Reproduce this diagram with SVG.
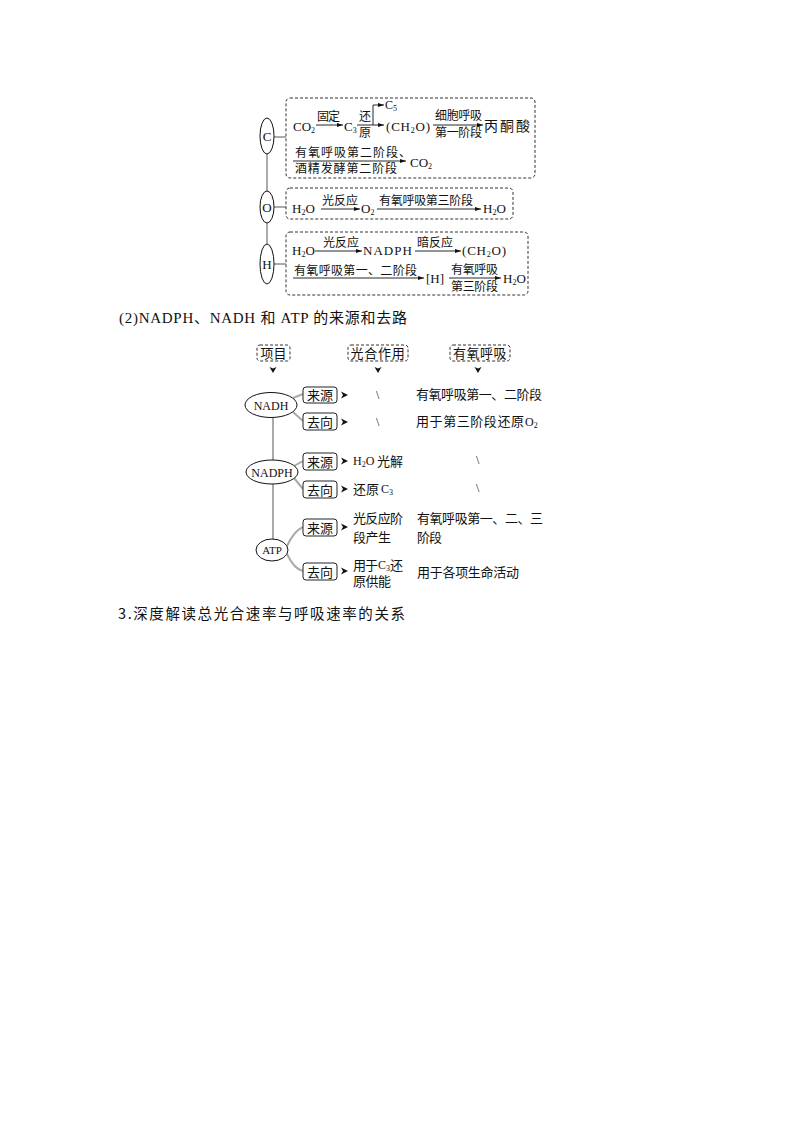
<svg xmlns="http://www.w3.org/2000/svg" width="794" height="1123" viewBox="0 0 794 1123">
<style>
.t{font-family:"Liberation Serif","Noto Sans CJK SC",serif;fill:#111}
.s{font-size:8px}
.cn{font-family:"Noto Sans CJK SC","Liberation Serif",serif;fill:#111}
.dash{fill:none;stroke:#333;stroke-width:1;stroke-dasharray:3,2}
.ln{stroke:#111;stroke-width:0.9;fill:none}
.gr{stroke:#aaa;stroke-width:2;fill:none}
.el{fill:#fff;stroke:#111;stroke-width:1}
.bx{fill:#fff;stroke:#222;stroke-width:1}
</style>
<defs>
<marker id="ah" viewBox="0 0 6 4" refX="6" refY="2" markerWidth="6" markerHeight="4" markerUnits="userSpaceOnUse" orient="auto"><path d="M0,0 L6,2 L0,4 Z" fill="#111"/></marker>
<path id="dn" d="M-3.5,0 L0,1.5 L3.5,0 L0,6 Z" fill="#111"/>
<path id="rt" d="M0,-3.5 L7,0 L0,3.5 L2,0 Z" fill="#111"/>
</defs>
<rect width="794" height="1123" fill="#fff"/>

<!-- connectors -->
<g id="connectors">
<line class="gr" x1="267" y1="154" x2="267" y2="191"/>
<line class="gr" x1="267" y1="223" x2="267" y2="244"/>
<line class="gr" x1="274" y1="137" x2="286" y2="137" stroke-width="1.5"/>
<line class="gr" x1="274" y1="207" x2="286" y2="207" stroke-width="1.5"/>
<line class="gr" x1="274" y1="264" x2="286" y2="264" stroke-width="1.5"/>
<line class="gr" x1="273" y1="418" x2="273" y2="460"/>
<line class="gr" x1="273" y1="484" x2="273" y2="539"/>
<path class="gr" stroke-width="1.2" d="M293,398 L303,394"/>
<path class="gr" stroke-width="1.2" d="M293,412 L303,421"/>
<path class="gr" stroke-width="1.2" d="M294,466 L303,461"/>
<path class="gr" stroke-width="1.2" d="M294,478 L303,489"/>
<path class="gr" d="M287,546 Q294,531 303,527"/>
<path class="gr" d="M287,554 Q294,569 303,571"/>
<use href="#dn" x="273" y="367"/>
<use href="#dn" x="378" y="367"/>
<use href="#dn" x="478" y="367"/>
<use href="#rt" x="341" y="395"/>
<use href="#rt" x="341" y="422"/>
<use href="#rt" x="341" y="461"/>
<use href="#rt" x="341" y="489"/>
<use href="#rt" x="341" y="527"/>
<use href="#rt" x="341" y="571"/>
</g>

<!-- C element -->
<g id="nodeC">
<ellipse class="el" cx="267" cy="136" rx="7" ry="18"/>
<text class="t" x="267" y="141" font-size="13" text-anchor="middle">C</text>
</g>
<g id="boxC">
<rect class="dash" x="286" y="98" width="249" height="80" rx="4"/>
<text class="t" x="293" y="131" font-size="13">CO<tspan class="s" dy="2">2</tspan></text>
<text class="t" x="317" y="121" font-size="12" textLength="23">固定</text>
<line class="ln" x1="316" y1="125" x2="343" y2="125" marker-end="url(#ah)"/>
<text class="t" x="344" y="131" font-size="13">C<tspan class="s" dy="2">3</tspan></text>
<text class="t" x="359" y="121" font-size="12">还</text>
<text class="t" x="359" y="137" font-size="12">原</text>
<line class="ln" x1="357" y1="125" x2="384" y2="125" marker-end="url(#ah)"/>
<path class="ln" d="M373,125 V105 H384" marker-end="url(#ah)"/>
<text class="t" x="385" y="109" font-size="12">C<tspan class="s" dy="2">5</tspan></text>
<text class="t" x="386" y="131" font-size="13" letter-spacing="0.8">(CH<tspan class="s" dy="2">2</tspan><tspan dy="-2">O)</tspan></text>
<text class="t" x="435" y="120" font-size="12" textLength="47">细胞呼吸</text>
<line class="ln" x1="433" y1="125" x2="483" y2="125" marker-end="url(#ah)"/>
<text class="t" x="435" y="137" font-size="12" textLength="47">第一阶段</text>
<text class="t" x="484" y="131" font-size="14" textLength="46">丙酮酸</text>
<text class="t" x="295" y="157" font-size="12" textLength="116">有氧呼吸第二阶段、</text>
<line class="ln" x1="293" y1="161" x2="406" y2="161" marker-end="url(#ah)"/>
<text class="t" x="295" y="173" font-size="12" textLength="102">酒精发酵第二阶段</text>
<text class="t" x="410" y="167" font-size="13">CO<tspan class="s" dy="2">2</tspan></text>
</g>

<!-- O element -->
<g id="nodeO">
<ellipse class="el" cx="267" cy="207" rx="7" ry="16"/>
<text class="t" x="267" y="212" font-size="13" text-anchor="middle">O</text>
</g>
<g id="boxO">
<rect class="dash" x="286" y="188" width="227" height="31" rx="4"/>
<text class="t" x="292" y="213" font-size="13">H<tspan class="s" dy="2">2</tspan><tspan dy="-2">O</tspan></text>
<text class="t" x="322" y="205" font-size="12" textLength="36">光反应</text>
<line class="ln" x1="321" y1="209" x2="360" y2="209" marker-end="url(#ah)"/>
<text class="t" x="361" y="213" font-size="13">O<tspan class="s" dy="2">2</tspan></text>
<text class="t" x="379" y="205" font-size="12" textLength="94">有氧呼吸第三阶段</text>
<line class="ln" x1="377" y1="209" x2="481" y2="209" marker-end="url(#ah)"/>
<text class="t" x="483" y="213" font-size="13">H<tspan class="s" dy="2">2</tspan><tspan dy="-2">O</tspan></text>
</g>

<!-- H element -->
<g id="nodeH">
<ellipse class="el" cx="267" cy="264" rx="7" ry="20"/>
<text class="t" x="267" y="269" font-size="13" text-anchor="middle">H</text>
</g>
<g id="boxH">
<rect class="dash" x="286" y="232" width="242" height="63" rx="4"/>
<text class="t" x="292" y="255" font-size="13">H<tspan class="s" dy="2">2</tspan><tspan dy="-2">O</tspan></text>
<text class="t" x="323" y="247" font-size="12" textLength="36">光反应</text>
<line class="ln" x1="315" y1="251" x2="362" y2="251" marker-end="url(#ah)"/>
<text class="t" x="363" y="255" font-size="13" letter-spacing="1">NADPH</text>
<text class="t" x="417" y="247" font-size="12" textLength="36">暗反应</text>
<line class="ln" x1="415" y1="251" x2="461" y2="251" marker-end="url(#ah)"/>
<text class="t" x="462" y="255" font-size="13" letter-spacing="0.8">(CH<tspan class="s" dy="2">2</tspan><tspan dy="-2">O)</tspan></text>
<text class="t" x="294" y="275" font-size="12" textLength="123">有氧呼吸第一、二阶段</text>
<line class="ln" x1="293" y1="278" x2="424" y2="278" marker-end="url(#ah)"/>
<text class="t" x="426" y="283" font-size="13">[H]</text>
<text class="t" x="451" y="274" font-size="12" textLength="47">有氧呼吸</text>
<line class="ln" x1="449" y1="278" x2="501" y2="278" marker-end="url(#ah)"/>
<text class="t" x="451" y="291" font-size="12" textLength="47">第三阶段</text>
<text class="t" x="503" y="283" font-size="13">H<tspan class="s" dy="2">2</tspan><tspan dy="-2">O</tspan></text>
</g>

<text class="t" x="119" y="323" font-size="15" textLength="288">(2)NADPH、NADH 和 ATP 的来源和去路</text>

<!-- headers -->
<g id="hdr1">
<rect class="dash" x="257" y="345" width="33" height="16" rx="3"/>
<text class="t" x="273.5" y="357.5" font-size="13" text-anchor="middle">项目</text>
</g>
<g id="hdr2">
<rect class="dash" x="348" y="345" width="60" height="16" rx="3"/>
<text class="t" x="378" y="357.5" font-size="13" text-anchor="middle" letter-spacing="0.8">光合作用</text>
</g>
<g id="hdr3">
<rect class="dash" x="450" y="345" width="60" height="16" rx="3"/>
<text class="t" x="480" y="357.5" font-size="13" text-anchor="middle" letter-spacing="0.5">有氧呼吸</text>
</g>

<!-- NADH -->
<g id="NADH">
<ellipse class="el" cx="271" cy="405" rx="26" ry="12.5"/>
<text class="t" x="271" y="409.5" font-size="12" text-anchor="middle">NADH</text>
</g>
<g id="NADH-src">
<rect class="bx" x="303" y="387" width="34" height="16" rx="3"/>
<text class="t" x="320" y="400" font-size="13" text-anchor="middle">来源</text>
</g>
<g id="NADH-dst">
<rect class="bx" x="303" y="413" width="34" height="17" rx="3"/>
<text class="t" x="320" y="426.5" font-size="13" text-anchor="middle">去向</text>
</g>
<text class="t" x="376" y="399" font-size="12">\</text>
<text class="t" x="376" y="426" font-size="12">\</text>
<text class="t" x="416" y="399" font-size="13" textLength="126">有氧呼吸第一、二阶段</text>
<text class="t" x="416" y="426" font-size="13" textLength="108">用于第三阶段还原</text>
<text class="t" x="525" y="426" font-size="12">O<tspan class="s" dy="2">2</tspan></text>

<!-- NADPH -->
<g id="NADPH">
<ellipse class="el" cx="272" cy="472" rx="26" ry="12"/>
<text class="t" x="272" y="476.5" font-size="12" text-anchor="middle">NADPH</text>
</g>
<g id="NADPH-src">
<rect class="bx" x="303" y="453" width="34" height="17" rx="3"/>
<text class="t" x="320" y="466.5" font-size="13" text-anchor="middle">来源</text>
</g>
<g id="NADPH-dst">
<rect class="bx" x="303" y="481" width="34" height="17" rx="3"/>
<text class="t" x="320" y="494.5" font-size="13" text-anchor="middle">去向</text>
</g>
<text class="t" x="353" y="465" font-size="12">H<tspan class="s" dy="2">2</tspan><tspan dy="-2">O</tspan></text>
<text class="t" x="377" y="465.5" font-size="13">光解</text>
<text class="t" x="353" y="493.5" font-size="13" textLength="26">还原</text>
<text class="t" x="381" y="493" font-size="12">C<tspan class="s" dy="2">3</tspan></text>
<text class="t" x="476" y="464" font-size="12">\</text>
<text class="t" x="476" y="492" font-size="12">\</text>

<!-- ATP -->
<g id="ATP">
<ellipse class="el" cx="272" cy="550" rx="16" ry="11"/>
<text class="t" x="272" y="554" font-size="11" text-anchor="middle">ATP</text>
</g>
<g id="ATP-src">
<rect class="bx" x="303" y="519" width="34" height="17" rx="3"/>
<text class="t" x="320" y="532.5" font-size="13" text-anchor="middle">来源</text>
</g>
<g id="ATP-dst">
<rect class="bx" x="303" y="563" width="34" height="17" rx="3"/>
<text class="t" x="320" y="576.5" font-size="13" text-anchor="middle">去向</text>
</g>
<text class="t" x="353" y="522.5" font-size="13" textLength="50">光反应阶</text>
<text class="t" x="353" y="541.5" font-size="13" textLength="38">段产生</text>
<text class="t" x="417" y="522.5" font-size="13" textLength="126">有氧呼吸第一、二、三</text>
<text class="t" x="417" y="541.5" font-size="13" textLength="25">阶段</text>
<text class="t" x="353" y="569.5" font-size="13" textLength="25">用于</text>
<text class="t" x="378" y="569" font-size="12">C<tspan class="s" dy="2">3</tspan></text>
<text class="t" x="390" y="569.5" font-size="13">还</text>
<text class="t" x="353" y="585.5" font-size="13" textLength="38">原供能</text>
<text class="t" x="417" y="576.5" font-size="13" textLength="102">用于各项生命活动</text>

<text class="cn" x="118" y="619" font-size="14.5" textLength="287">3.深度解读总光合速率与呼吸速率的关系</text>
</svg>
